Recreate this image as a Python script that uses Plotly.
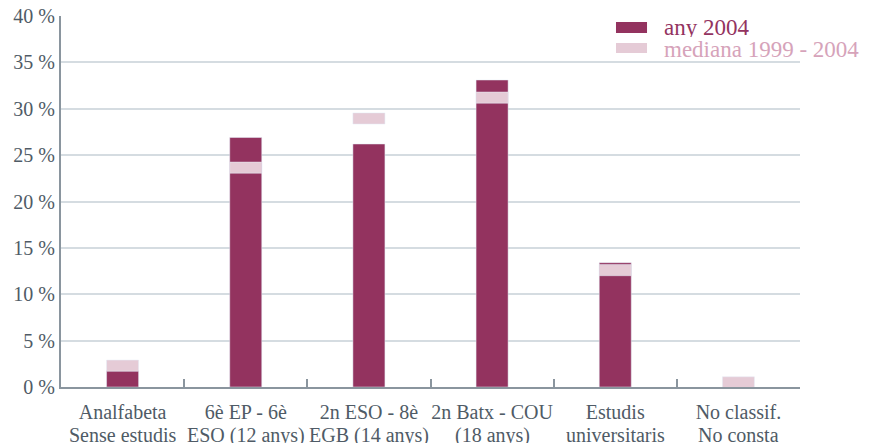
import plotly.graph_objects as go

categories = [
    "Analfabeta<br>Sense estudis",
    "6è EP - 6è<br>ESO (12 anys)",
    "2n ESO - 8è<br>EGB (14 anys)",
    "2n Batx - COU<br>(18 anys)",
    "Estudis<br>universitaris",
    "No classif.<br>No consta",
]
any_2004 = [1.75, 26.9, 26.2, 33.1, 13.4, 0.0]
mediana_1999_2004 = [2.9, 24.25, 29.55, 31.8, 13.2, 1.1]  # top edge of the median band
y_ticks = [0, 5, 10, 15, 20, 25, 30, 35, 40]
y_tick_labels = [f"{v} %" for v in y_ticks]

line1 = [c.split("<br>")[0] for c in categories]
line2 = [c.split("<br>")[1] for c in categories]

DARK = "#93335f"
LIGHT = "#e5cbd6"
LIGHT_TEXT = "#d6a3ba"
TEXT = "#4f5b66"
AXIS = "#8a959e"
GRID = "#d5dce1"
FONT = "Liberation Serif"
BAND = 1.2

fig = go.Figure()
fig.add_trace(go.Bar(x=categories, y=any_2004, marker_color=DARK, width=0.26,
                     name="any 2004", showlegend=False))
fig.add_trace(go.Bar(x=categories, y=[BAND] * len(categories),
                     base=[m - BAND for m in mediana_1999_2004],
                     marker_color=LIGHT, width=0.26,
                     name="mediana 1999 - 2004", showlegend=False))

# second line of each category label (tighter line spacing than plotly's <br>)
for c, t in zip(categories, line2):
    fig.add_annotation(x=c, xref="x", yref="paper", y=-0.094, yanchor="top",
                       text=t, showarrow=False, height=22, valign="top",
                       font=dict(family=FONT, size=20, color=TEXT))

# legend (manual, to reproduce the wide swatches)
fig.add_shape(type="rect", xref="paper", yref="paper", x0=0.751, x1=0.793, y0=0.954, y1=0.984,
              fillcolor=DARK, line_width=0)
fig.add_shape(type="rect", xref="paper", yref="paper", x0=0.751, x1=0.793, y0=0.900, y1=0.927,
              fillcolor=LIGHT, line_width=0)
fig.add_annotation(xref="paper", yref="paper", x=0.813, y=0.970, xanchor="left", yanchor="middle",
                   text="any 2004", showarrow=False, height=20,
                   font=dict(family=FONT, size=23, color=DARK))
fig.add_annotation(xref="paper", yref="paper", x=0.813, y=0.910, xanchor="left", yanchor="middle",
                   text="mediana 1999 - 2004", showarrow=False, height=20,
                   font=dict(family=FONT, size=23, color=LIGHT_TEXT))

fig.update_layout(
    width=875, height=443,
    margin=dict(l=61, r=75, t=16, b=56, autoexpand=False),
    barmode="overlay",
    plot_bgcolor="white", paper_bgcolor="white",
    font=dict(family=FONT, size=20, color=TEXT),
)
fig.update_xaxes(
    type="category", showline=True, linecolor=AXIS, linewidth=2,
    ticks="inside", tickson="boundaries", ticklen=8, tickwidth=1.5, tickcolor=AXIS,
    showgrid=False, tickangle=0, automargin=False,
    tickvals=categories, ticktext=line1, ticklabelstandoff=6,
    tickfont=dict(family=FONT, size=20, color=TEXT),
)
fig.update_yaxes(
    range=[0, 40], tickvals=y_ticks, ticktext=y_tick_labels,
    showline=True, linecolor=AXIS, linewidth=2,
    showgrid=True, gridcolor=GRID, gridwidth=1.5, zeroline=False,
    ticks="", automargin=False,
    tickfont=dict(family=FONT, size=20, color=TEXT),
)

fig.write_html("out.html", config={"displayModeBar": False},
               post_script="document.body.style.margin='0';document.body.style.overflow='hidden';")
